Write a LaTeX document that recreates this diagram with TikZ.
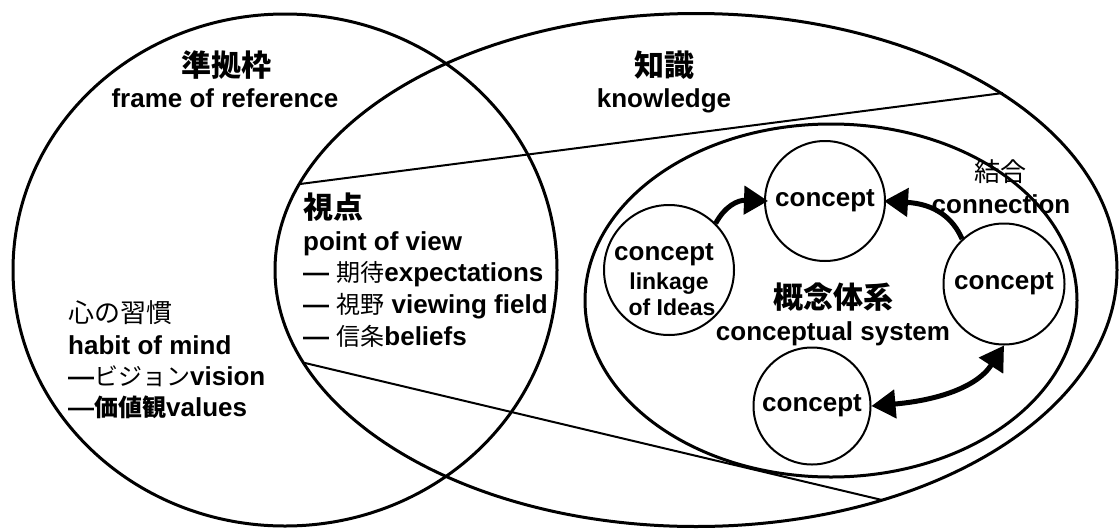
\documentclass[tikz,border=0pt]{standalone}
\usepackage{fontspec}
\setmainfont{Liberation Sans}
\newfontfamily\jp{Noto Sans CJK JP}
\usetikzlibrary{arrows.meta}
\newcommand\jpr[1]{{\jp\mdseries\fontsize{24}{30}\selectfont #1}}
\newcommand\jpb[1]{{\jp\bfseries\fontsize{24}{30}\selectfont #1}}
\begin{document}
\begin{tikzpicture}[x=1pt,y=-1pt,
  big/.style={line width=3pt},
  cone/.style={line width=2pt},
  circ/.style={draw, circle, line width=2pt, inner sep=0pt, font=\fontsize{26}{30}\selectfont\bfseries},
  en/.style={font=\fontsize{26}{30}\selectfont\bfseries, inner sep=0pt},
  ens/.style={font=\fontsize{23}{28}\selectfont\bfseries, inner sep=0pt},
  jt/.style={font=\fontsize{30}{34}\selectfont\jp\bfseries, inner sep=0pt},
  jn/.style={font=\fontsize{26}{30}\selectfont\jp\mdseries, inner sep=0pt},
  arr/.style={line width=5pt, -{Triangle[length=24pt,width=28pt]}},
  darr/.style={line width=5pt, {Triangle[length=24pt,width=28pt]}-{Triangle[length=24pt,width=28pt]}},
]
\useasboundingbox (0,0) rectangle (1120,528);
\fill[white] (0,0) rectangle (1120,528);

% large regions
\draw[big] (285,270) ellipse [x radius=272pt, y radius=256pt];
\draw[big] (696,270) ellipse [x radius=421pt, y radius=256.5pt];
\draw[big] (831,300.5) ellipse [x radius=246pt, y radius=176.5pt];

% cone of the point of view
\coordinate (a1) at (300,184);
\coordinate (a2) at (1003,93);
\coordinate (b1) at (305,363);
\coordinate (b2) at (882,500);
\draw[cone] (a1) -- (a2);
\draw[cone] (b1) -- (b2);

% concepts
\node[circ, minimum size=120pt] (ct) at (825,201) {concept};
\node[circ, minimum size=130pt] (cl) at (669,270) {};
\node[circ, minimum size=121pt] (cr) at (1004,284) {concept};
\node[circ, minimum size=117pt] (cb) at (812,406) {concept};
\node[en, anchor=base] (cl1) at (664,260) {concept};
\node[ens, anchor=base] (cl2) at (669,289) {linkage};
\node[ens, anchor=base] (cl3) at (672,315) {of Ideas};

% connections
\draw[arr] (cl.45) .. controls (725,206) and (738,200) .. ([xshift=4pt]ct.west);
\draw[arr] (cr.133) .. controls (953,218) and (935,204) .. ([xshift=-2pt]ct.east);
\draw[darr] (cb.east) .. controls (930,401) and (975,390) .. (cr.south);

% labels
\node[jt, anchor=base] (t1) at (226,76) {準拠枠};
\node[en, anchor=base] (t2) at (225,107) {frame of reference};
\node[jt, anchor=base] (t3) at (664,76) {知識};
\node[en, anchor=base] (t4) at (664,107) {knowledge};

\node[jt, anchor=base west] (p1) at (303,218) {視点};
\node[en, anchor=base west] (p2) at (303,250) {point of view};
\node[en, anchor=base west] (p3) at (303,281) {— \jpr{期待}expectations};
\node[en, anchor=base west] (p4) at (303,313) {— \jpr{視野} viewing field};
\node[en, anchor=base west] (p5) at (303,345) {— \jpr{信条}beliefs};

\node[jn, anchor=base west] (h1) at (68,322) {心の習慣};
\node[en, anchor=base west] (h2) at (68,354) {habit of mind};
\node[en, anchor=base west] (h3) at (68,385) {—\jpr{ビジョン}vision};
\node[en, anchor=base west] (h4) at (68,416) {—\jpb{価値観}values};

\node[jn, anchor=base] (k1) at (1000,181) {結合};
\node[en, anchor=base] (k2) at (1001,213) {connection};

\node[jt, anchor=base] (s1) at (833,308) {概念体系};
\node[en, anchor=base] (s2) at (833,340) {conceptual system};
\end{tikzpicture}
\end{document}
